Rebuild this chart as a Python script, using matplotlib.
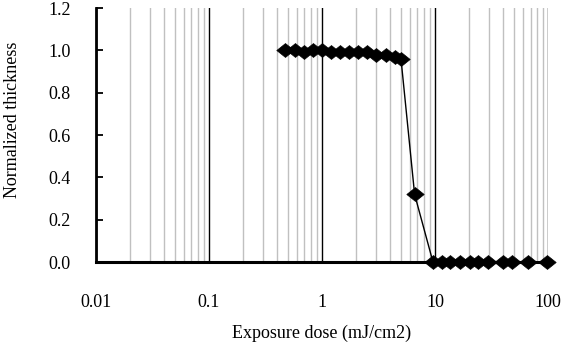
"""Normalized resist thickness vs exposure dose."""

import matplotlib

matplotlib.use("Agg")
import matplotlib.pyplot as plt
from matplotlib.path import Path
from matplotlib.ticker import FixedLocator, LogLocator, NullFormatter

# values
dose = [
    0.47, 0.58, 0.69, 0.83, 1.0, 1.2, 1.44, 1.73, 2.08, 2.5, 3.0, 3.68, 4.43, 5.0,
    6.6,
    9.6, 11.5, 13.6, 16.6, 20.4, 24.0, 29.4, 40.0, 48.0, 66.5, 98.0,
]
thickness = [
    1.0, 1.0, 0.99, 1.0, 1.0, 0.99, 0.99, 0.99, 0.99, 0.99, 0.98, 0.98, 0.97, 0.96,
    0.32,
    0.0, 0.0, 0.0, 0.0, 0.0, 0.0, 0.0, 0.0, 0.0, 0.0, 0.0,
]
x_ticks = [0.01, 0.1, 1, 10, 100]
x_tick_labels = ["0.01", "0.1", "1", "10", "100"]
y_ticks = [0.0, 0.2, 0.4, 0.6, 0.8, 1.0, 1.2]

# Excel style diamond, a bit wider than tall
DIAMOND = Path(
    [(-1, 0), (0, 0.8), (1, 0), (0, -0.8), (-1, 0)],
    [Path.MOVETO, Path.LINETO, Path.LINETO, Path.LINETO, Path.CLOSEPOLY],
)

plt.rcParams["font.family"] = ["Liberation Serif", "DejaVu Serif"]
plt.rcParams["font.size"] = 13

fig = plt.figure(figsize=(5.68, 3.49), dpi=100)
ax = fig.add_axes([0.169, 0.249, 0.7958, 0.728])

ax.plot(
    dose,
    thickness,
    color="black",
    linewidth=1,
    marker=DIAMOND,
    markersize=12.5,
    markerfacecolor="black",
    markeredgecolor="black",
    markeredgewidth=0.5,
    clip_on=False,
    zorder=5,
)

ax.set_xscale("log")
ax.set_xlim(0.01, 100)
ax.set_ylim(0, 1.2)

ax.xaxis.set_major_locator(FixedLocator(x_ticks))
ax.set_xticklabels(x_tick_labels)
ax.xaxis.set_minor_locator(LogLocator(base=10, subs=range(2, 10), numticks=20))
ax.xaxis.set_minor_formatter(NullFormatter())
ax.set_yticks(y_ticks)
ax.set_yticklabels([f"{v:.1f}" for v in y_ticks])

ax.grid(axis="x", which="major", color="black", linewidth=1)
ax.grid(axis="x", which="minor", color="#c0c0c0", linewidth=1)
ax.set_axisbelow(True)

for side in ("top", "right"):
    ax.spines[side].set_visible(False)
ax.spines["left"].set_linewidth(2)
ax.spines["bottom"].set_linewidth(2.2)

ax.tick_params(axis="x", which="both", length=0, pad=23)
ax.tick_params(axis="y", direction="in", length=5, width=1.3, pad=18)

ax.set_xlabel("Exposure dose (mJ/cm2)", labelpad=10)
ax.set_ylabel("Normalized thickness")
ax.yaxis.set_label_coords(-0.165, 0.56)

fig.savefig("out.png", dpi=100)
